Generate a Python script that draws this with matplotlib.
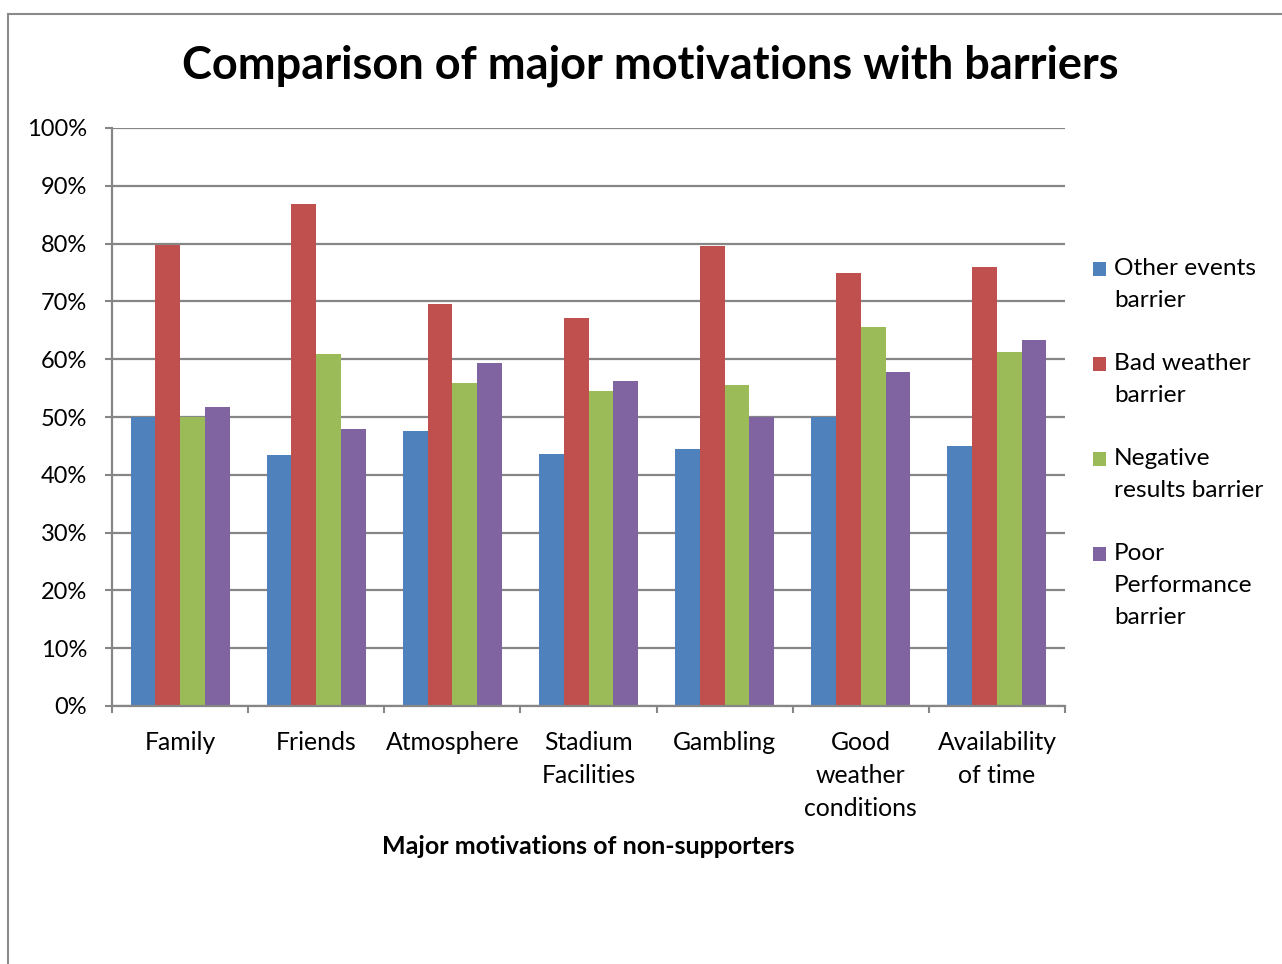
import matplotlib
matplotlib.use("Agg")
import matplotlib.pyplot as plt
from matplotlib.patches import Rectangle
import numpy as np

categories = ["Family", "Friends", "Atmosphere", "Stadium\nFacilities", "Gambling",
              "Good\nweather\nconditions", "Availability\nof time"]
series_names = ["Other events\nbarrier", "Bad weather\nbarrier",
                "Negative\nresults barrier", "Poor\nPerformance\nbarrier"]
other_events = [50.0, 43.4, 47.5, 43.6, 44.4, 50.0, 44.9]
bad_weather = [79.7, 86.9, 69.5, 67.1, 79.6, 74.9, 76.0]
negative_results = [50.0, 60.9, 55.9, 54.5, 55.5, 65.6, 61.2]
poor_performance = [51.8, 47.9, 59.3, 56.2, 50.0, 57.7, 63.3]
y_ticks = [0, 10, 20, 30, 40, 50, 60, 70, 80, 90, 100]

series = [other_events, bad_weather, negative_results, poor_performance]
colors = ["#4F81BD", "#C0504D", "#9BBB59", "#8064A2"]

plt.rcParams["font.family"] = ["Lato", "DejaVu Sans"]

W, H = 1282, 964
fig = plt.figure(figsize=(W / 100, H / 100), dpi=100)
fig.patch.set_facecolor("white")

# outer chart border
fig.patches.append(Rectangle((8 / W, -0.5), 2.0, 0.5 + 1 - 14 / H, transform=fig.transFigure,
                             fill=False, edgecolor="#8a8a8a", linewidth=1.5))

ax = fig.add_axes([112 / W, 1 - 706 / H, (1065 - 112) / W, (706 - 128) / H])

n_cat = len(categories)
n_ser = len(series)
bar_w = 1 / 5.5
x = np.arange(n_cat)
for i, (vals, col) in enumerate(zip(series, colors)):
    offs = (i - (n_ser - 1) / 2) * bar_w
    ax.bar(x + offs, vals, width=bar_w, color=col, edgecolor="none", zorder=3)

ax.set_xlim(-0.5, n_cat - 0.5)
ax.set_ylim(0, 100)
ax.set_yticks(y_ticks)
ax.set_yticklabels([f"{t}%" for t in y_ticks])
ax.yaxis.grid(True, color="#868686", linewidth=1.6, zorder=0)
ax.set_axisbelow(True)

ax.set_xticks(x)
ax.set_xticklabels(categories, linespacing=1.52)
ax.set_xticks(np.arange(n_cat + 1) - 0.5, minor=True)
ax.tick_params(axis="x", which="major", length=0, pad=18, labelsize=17.8, colors="black")
ax.tick_params(axis="x", which="minor", length=5, width=1.5, color="#868686")
ax.tick_params(axis="y", length=5, width=1.5, color="#868686", pad=13, labelsize=17)

for s in ["top", "right"]:
    ax.spines[s].set_visible(False)
for s in ["left", "bottom"]:
    ax.spines[s].set_color("#868686")
    ax.spines[s].set_linewidth(1.6)
ax.spines["bottom"].set_zorder(4)

fig.text(650 / W, 1 - 66 / H, "Comparison of major motivations with barriers",
         ha="center", va="center", fontsize=32.5, fontweight="bold")
fig.text(588 / W, 1 - 846 / H, "Major motivations of non-supporters",
         ha="center", va="center", fontsize=18, fontweight="bold")

# legend
leg_y = [269, 364, 459, 554]
for name, col, yy in zip(series_names, colors, leg_y):
    fig.patches.append(Rectangle((1093 / W, 1 - (yy + 7) / H), 13 / W, 14 / H,
                                 transform=fig.transFigure, facecolor=col, edgecolor="none"))
    fig.text(1114 / W, 1 - (yy - 11) / H, name, ha="left", va="top", fontsize=17.6,
             linespacing=1.66)

fig.savefig("out.png", dpi=100)
